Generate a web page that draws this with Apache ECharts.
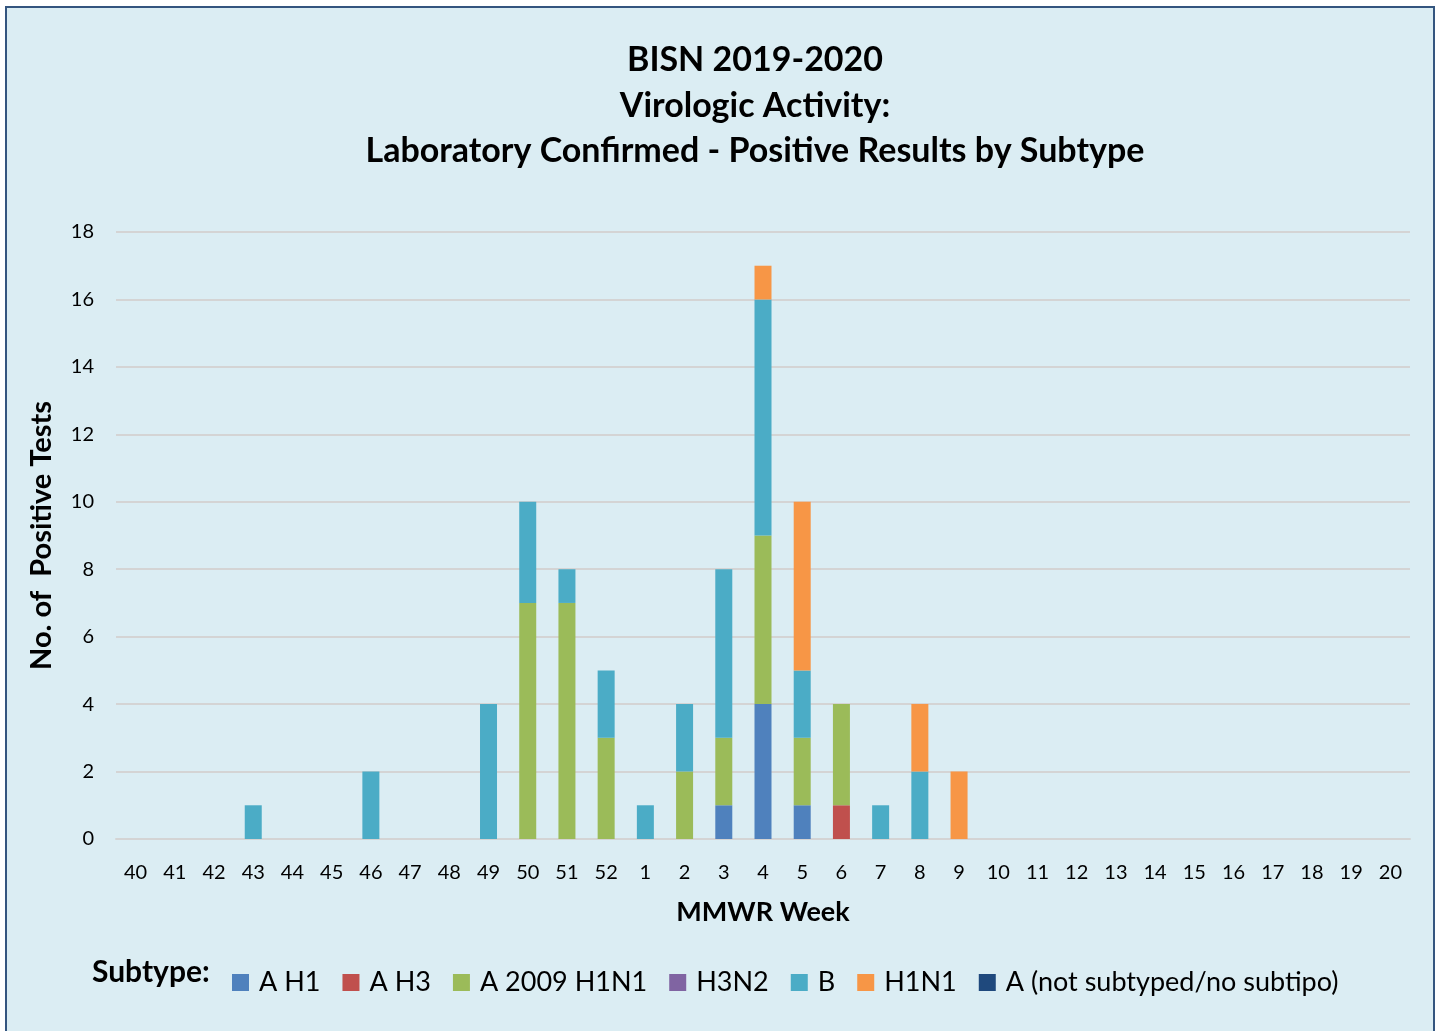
<!DOCTYPE html>
<html>
<head>
<meta charset="utf-8">
<script src="https://cdn.jsdelivr.net/npm/echarts@6/dist/echarts.min.js"></script>
<style>
html,body{margin:0;padding:0;background:#ffffff;width:1440px;height:1031px;overflow:hidden;}
#frame{position:absolute;left:5px;top:6px;width:1426px;height:1030px;border:2px solid #34557F;background:#DBEDF3;}
#chart{position:absolute;left:0;top:0;width:1440px;height:1031px;}
</style>
</head>
<body>
<div id="frame"></div>
<div id="chart"></div>
<script>
const weeks = ['40','41','42','43','44','45','46','47','48','49','50','51','52','1','2','3','4','5','6','7','8','9','10','11','12','13','14','15','16','17','18','19','20'];
const seriesNames = ['A H1','A H3','A 2009 H1N1','H3N2','B','H1N1','A (not subtyped/no subtipo)'];
const colors = ['#4F81BD','#C0504D','#9BBB59','#8064A2','#4BACC6','#F79646','#1F497D'];
//               40 41 42 43 44 45 46 47 48 49 50 51 52  1  2  3  4  5  6  7  8  9 10 11 12 13 14 15 16 17 18 19 20
const aH1     = [ 0, 0, 0, 0, 0, 0, 0, 0, 0, 0, 0, 0, 0, 0, 0, 1, 4, 1, 0, 0, 0, 0, 0, 0, 0, 0, 0, 0, 0, 0, 0, 0, 0];
const aH3     = [ 0, 0, 0, 0, 0, 0, 0, 0, 0, 0, 0, 0, 0, 0, 0, 0, 0, 0, 1, 0, 0, 0, 0, 0, 0, 0, 0, 0, 0, 0, 0, 0, 0];
const a2009   = [ 0, 0, 0, 0, 0, 0, 0, 0, 0, 0, 7, 7, 3, 0, 2, 2, 5, 2, 3, 0, 0, 0, 0, 0, 0, 0, 0, 0, 0, 0, 0, 0, 0];
const h3n2    = [ 0, 0, 0, 0, 0, 0, 0, 0, 0, 0, 0, 0, 0, 0, 0, 0, 0, 0, 0, 0, 0, 0, 0, 0, 0, 0, 0, 0, 0, 0, 0, 0, 0];
const fluB    = [ 0, 0, 0, 1, 0, 0, 2, 0, 0, 4, 3, 1, 2, 1, 2, 5, 7, 2, 0, 1, 2, 0, 0, 0, 0, 0, 0, 0, 0, 0, 0, 0, 0];
const h1n1    = [ 0, 0, 0, 0, 0, 0, 0, 0, 0, 0, 0, 0, 0, 0, 0, 0, 1, 5, 0, 0, 2, 2, 0, 0, 0, 0, 0, 0, 0, 0, 0, 0, 0];
const aNotSub = [ 0, 0, 0, 0, 0, 0, 0, 0, 0, 0, 0, 0, 0, 0, 0, 0, 0, 0, 0, 0, 0, 0, 0, 0, 0, 0, 0, 0, 0, 0, 0, 0, 0];
const allData = [aH1, aH3, a2009, h3n2, fluB, h1n1, aNotSub];
const titleText = 'BISN 2019-2020\nVirologic Activity:\nLaboratory Confirmed - Positive Results by Subtype';

const FONT = 'Lato';
const chart = echarts.init(document.getElementById('chart'), null, {renderer:'canvas'});
chart.setOption({
  backgroundColor: 'transparent',
  animation: false,
  color: colors,
  grid: {left: 116, right: 30, top: 232, bottom: 192, containLabel: false},
  graphic: [
    {type:'text', x:755, y:106, style:{text:titleText, fontFamily:FONT, fontWeight:'bold', fontSize:34, lineHeight:45.5, fill:'#000', align:'center', verticalAlign:'middle'}},
    {type:'text', x:92, y:972, style:{text:'Subtype:', fontFamily:FONT, fontWeight:'bold', fontSize:30, fill:'#000', align:'left', verticalAlign:'middle'}}
  ],
  legend: {
    left: 227, top: 964,
    itemWidth: 17, itemHeight: 17, itemGap: 22,
    icon: 'rect',
    textStyle: {fontFamily: FONT, fontSize: 27, color:'#000', padding:[8,0,0,5]},
    data: seriesNames
  },
  xAxis: {
    type: 'category', data: weeks,
    name: 'MMWR Week', nameLocation: 'middle', nameGap: 60,
    nameTextStyle: {fontFamily: FONT, fontWeight:'bold', fontSize: 27, color:'#000'},
    axisLine: {lineStyle:{color:'#D4D4D4', width:2}},
    axisTick: {show:false},
    axisLabel: {fontFamily: FONT, fontSize: 20, color:'#000', margin: 24, interval: 0}
  },
  yAxis: {
    type: 'value', min: 0, max: 18, interval: 2,
    name: 'No. of  Positive Tests', nameLocation: 'middle', nameGap: 60, nameRotate: 90,
    nameTextStyle: {fontFamily: FONT, fontWeight:'bold', fontSize: 29, color:'#000'},
    axisLine: {show:false}, axisTick: {show:false},
    axisLabel: {fontFamily: FONT, fontSize: 20, color:'#000', margin: 22},
    splitLine: {lineStyle:{color:'#D4D4D4', width:2}}
  },
  series: seriesNames.map((n, i) => ({
    name: n, type: 'bar', stack: 'total', data: allData[i],
    barWidth: 17,
    itemStyle: {color: colors[i]}
  }))
});
</script>
</body>
</html>
